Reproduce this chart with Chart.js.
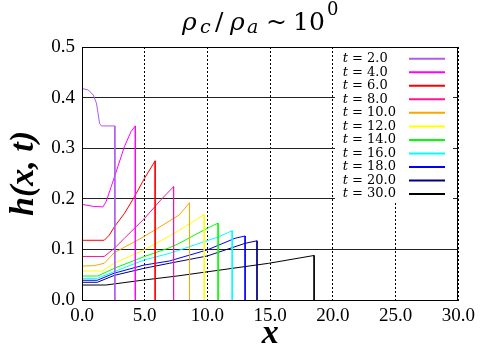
<!DOCTYPE html>
<html>
<head>
<meta charset="utf-8">
<script src="https://cdn.jsdelivr.net/npm/chart.js@4.4.1/dist/chart.umd.min.js"></script>
<style>
html,body{margin:0;padding:0;background:#fff;}
#wrap{width:480px;height:356px;}
</style>
</head>
<body>
<div id="wrap"><canvas id="c" width="480" height="356"></canvas></div>
<script>
// ---- data ----
const times = [2.0, 4.0, 6.0, 8.0, 10.0, 12.0, 14.0, 16.0, 18.0, 20.0, 30.0];
const x_t2  = [0, 0.5, 0.9, 1.15, 1.28, 1.4, 1.55, 2.62, 2.62];
const h_t2  = [0.418, 0.415, 0.405, 0.389, 0.369, 0.349, 0.344, 0.344, 0];
const x_t4  = [0, 0.9, 1.66, 1.92, 2.33, 2.85, 3.38, 3.91, 4.25, 4.25];
const h_t4  = [0.189, 0.185, 0.184, 0.194, 0.224, 0.263, 0.303, 0.333, 0.344, 0];
const x_t6  = [0, 1.77, 2.17, 2.59, 3.38, 4.18, 4.97, 5.83, 5.83];
const h_t6  = [0.118, 0.118, 0.128, 0.145, 0.171, 0.204, 0.240, 0.275, 0];
const x_t8  = [0, 1.77, 2.57, 3.38, 4.97, 6.29, 7.3, 7.3];
const h_t8  = [0.086, 0.086, 0.102, 0.122, 0.161, 0.198, 0.224, 0];
const x_t10 = [0, 1.0, 1.77, 2.57, 4.7, 6.02, 7.74, 8.57, 8.57];
const h_t10 = [0.067, 0.068, 0.0725, 0.0935, 0.122, 0.1416, 0.168, 0.192, 0];
const x_t12 = [0, 1.58, 2.57, 4.94, 6.95, 7.58, 9.74, 9.74];
const h_t12 = [0.0573, 0.0573, 0.0725, 0.099, 0.126, 0.135, 0.169, 0];
const x_t14 = [0, 1.25, 2.57, 4.94, 6.95, 7.58, 10.25, 10.85, 10.85];
const h_t14 = [0.0474, 0.0474, 0.0626, 0.0856, 0.103, 0.110, 0.145, 0.152, 0];
const x_t16 = [0, 1.22, 2.57, 4.94, 6.95, 7.58, 10.9, 11.97, 11.97];
const h_t16 = [0.0428, 0.0428, 0.056, 0.079, 0.092, 0.097, 0.125, 0.137, 0];
const x_t18 = [0, 1.22, 2.57, 4.94, 6.95, 9.99, 12.2, 13.0, 13.0];
const h_t18 = [0.039, 0.039, 0.053, 0.069, 0.077, 0.099, 0.122, 0.1265, 0];
const x_t20 = [0, 1.22, 2.57, 4.94, 6.95, 9.99, 13.0, 13.95, 13.95];
const h_t20 = [0.035, 0.035, 0.0486, 0.0626, 0.0725, 0.087, 0.112, 0.117, 0];
const x_t30 = [0, 1.9, 4.94, 7.58, 14.87, 18.5, 18.5];
const h_t30 = [0.0296, 0.0296, 0.0395, 0.0474, 0.0725, 0.088, 0];
const xTicks = [0, 5, 10, 15, 20, 25, 30];
const yTicks = [0, 0.1, 0.2, 0.3, 0.4, 0.5];

// ---- styles ----
const colors = ['#ac5cf0', '#ff00ff', '#ff0000', '#ff1493', '#ffa500', '#ffff00',
                '#00ff00', '#00ffff', '#0000ff', '#000080', '#000000'];

const xs = [x_t2, x_t4, x_t6, x_t8, x_t10, x_t12, x_t14, x_t16, x_t18, x_t20, x_t30];
const hs = [h_t2, h_t4, h_t6, h_t8, h_t10, h_t12, h_t14, h_t16, h_t18, h_t20, h_t30];

const datasets = times.map((t, i) => ({
  label: 't = ' + t.toFixed(1),
  data: xs[i].map((x, k) => ({x: x, y: hs[i][k]})),
  borderColor: colors[i],
  backgroundColor: colors[i],
  borderWidth: 1,
  pointRadius: 0,
  showLine: true,
  tension: 0,
  fill: false
}));

const serif = '"Liberation Serif", "DejaVu Serif", serif';
const dserif = '"DejaVu Serif", serif';

const framePlugin = {
  id: 'frame',
  afterDatasetsDraw(chart) {
    const {ctx, chartArea: a} = chart;
    // legend box
    const bx = 335, by = a.top + 1, bw = 118, bh = 153;
    ctx.save();
    ctx.fillStyle = '#fff';
    ctx.fillRect(bx, by, bw, bh);
    chart.data.datasets.forEach((ds, i) => {
      const y = 58.7 + i * 13.54;
      ctx.fillStyle = '#000';
      ctx.textBaseline = 'middle';
      ctx.textAlign = 'left';
      ctx.font = 'italic 13px ' + dserif;
      ctx.fillText('t', 342.7, y);
      const tw = ctx.measureText('t').width;
      ctx.font = '13px ' + dserif;
      ctx.fillText(' = ' + times[i].toFixed(1), 342.7 + tw, y);
      ctx.strokeStyle = ds.borderColor;
      ctx.lineWidth = 2;
      ctx.beginPath();
      ctx.moveTo(409, y);
      ctx.lineTo(445, y);
      ctx.stroke();
    });
    ctx.restore();
  },
  afterDraw(chart) {
    const {ctx, chartArea: a} = chart;
    ctx.save();
    ctx.strokeStyle = '#000';
    ctx.lineWidth = 1;
    ctx.strokeRect(Math.round(a.left) + 0.5, Math.round(a.top) + 0.5,
                   Math.round(a.right - a.left) - 1, Math.round(a.bottom - a.top));
    // title  ρ_c / ρ_a ~10^0
    ctx.fillStyle = '#000';
    ctx.textBaseline = 'alphabetic';
    ctx.textAlign = 'left';
    ctx.font = 'italic 25px ' + dserif;
    ctx.fillText('ρ', 182, 29.5);
    ctx.font = 'italic 19px ' + dserif;
    ctx.fillText('c', 200, 33.3);
    ctx.font = '25px ' + dserif;
    ctx.fillText('/', 215, 30);
    ctx.font = 'italic 25px ' + dserif;
    ctx.fillText('ρ', 230, 29.5);
    ctx.font = 'italic 19px ' + dserif;
    ctx.fillText('a', 247, 33.3);
    ctx.font = '25px ' + dserif;
    ctx.fillText('~', 266, 30);
    ctx.fillText('10', 293, 30);
    ctx.font = '18px ' + dserif;
    ctx.fillText('0', 327, 15);
    ctx.restore();
  }
};

new Chart(document.getElementById('c'), {
  type: 'scatter',
  data: { datasets: datasets },
  options: {
    responsive: false,
    animation: false,
    events: [],
    layout: { padding: { top: 47, right: 20, left: 0, bottom: 0 } },
    plugins: {
      legend: { display: false },
      title: { display: false },
      tooltip: { enabled: false }
    },
    scales: {
      x: {
        type: 'linear',
        min: 0, max: 30,
        afterBuildTicks(s) { s.ticks = xTicks.map(v => ({value: v})); },
        afterFit(s) { s.height = 56; },
        ticks: {
          padding: 5,
          color: '#000',
          font: { family: serif, size: 19 },
          callback: v => Number(v).toFixed(1)
        },
        grid: { color: '#000', lineWidth: 1, drawTicks: false },
        border: { display: true, color: '#000', width: 1, dash: [2, 2] },
        title: {
          display: true, text: 'x', color: '#000',
          font: { family: serif, size: 34, style: 'italic', weight: 'bold' },
          padding: { top: 0, bottom: 1 }
        }
      },
      y: {
        type: 'linear',
        min: 0, max: 0.5,
        afterBuildTicks(s) { s.ticks = yTicks.map(v => ({value: v})); },
        afterFit(s) { s.width = 82; },
        ticks: {
          padding: 7,
          color: '#000',
          font: { family: serif, size: 19 },
          callback: v => Number(v).toFixed(1)
        },
        grid: { color: '#222', lineWidth: 1, drawTicks: false },
        border: { display: true, color: '#000', width: 1 },
        title: {
          display: true, text: 'h(x, t)', color: '#000',
          font: { family: serif, size: 34, style: 'italic', weight: 'bold' },
          padding: { top: 4, bottom: 0 }
        }
      }
    }
  },
  plugins: [framePlugin]
});
</script>
</body>
</html>
